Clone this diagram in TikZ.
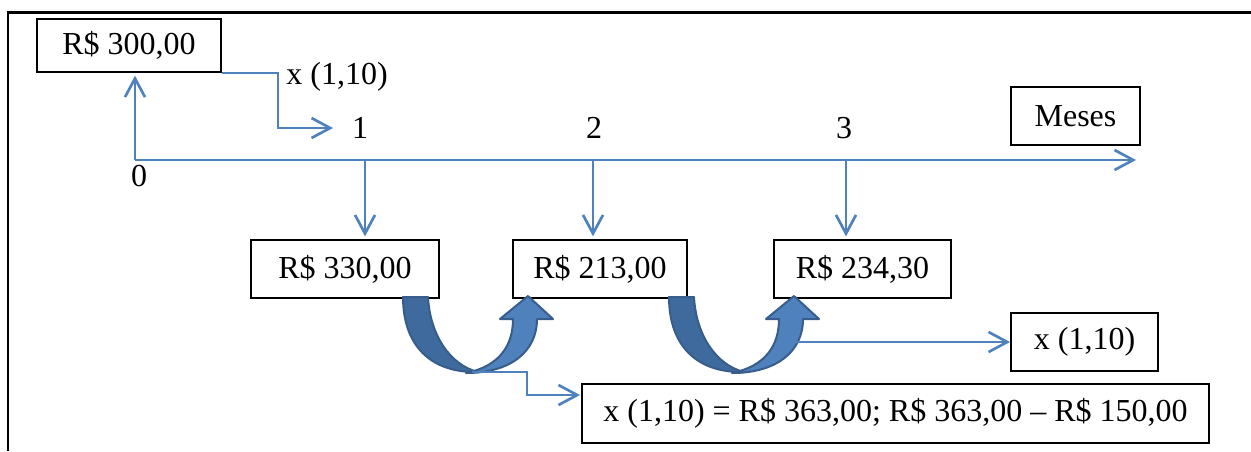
\documentclass[tikz,border=0pt]{standalone}
\usepackage{fontspec}
\setmainfont{Liberation Serif}
\usetikzlibrary{arrows.meta,calc}
\definecolor{lineblue}{HTML}{4F81BD}
\definecolor{arrlight}{HTML}{4F81BD}
\definecolor{arrdark}{HTML}{3E6A9E}
\definecolor{arredge}{HTML}{385D8A}
\begin{document}
\begin{tikzpicture}[x=0.75pt,y=-0.75pt,
  box/.style={draw=black,line width=1.4pt,inner sep=0pt,font=\fontsize{24}{28}\selectfont},
  lbl/.style={inner sep=0pt,font=\fontsize{24}{28}\selectfont},
  bl/.style={draw=lineblue,line width=2pt},
  arr/.style={bl,-{Straight Barb[length=14pt,width=15pt]}},
  uarrL/.style={fill=arrdark,draw=arredge,line width=1.5pt,line join=round},
  uarrR/.style={fill=arrlight,draw=arredge,line width=1.5pt,line join=round}]
\useasboundingbox (0,0) rectangle (1251,451);
% frame
\draw[line width=2pt] (8,451) -- (8,12.5) -- (1251,12.5);

% boxes
\node[box,minimum width=138pt,minimum height=39.75pt] (b0) at (129,45.5) {R\$ 300,00};
\node[box,minimum width=96.75pt,minimum height=43.5pt] (bm) at (1075.5,116) {Meses};
\node[box,minimum width=141pt,minimum height=43.5pt] (b1) at (345,269) {R\$ 330,00};
\node[box,minimum width=130.5pt,minimum height=43.5pt] (b2) at (600,269) {R\$ 213,00};
\node[box,minimum width=132.75pt,minimum height=43.5pt] (b3) at (862.5,269) {R\$ 234,30};
\node[box,minimum width=110.25pt,minimum height=43.5pt] (b5) at (1084.5,342) {x (1,10)};
\node[box,minimum width=470.25pt,minimum height=44.25pt] (b6) at (895.5,413.5) {x (1,10) = R\$ 363,00; R\$ 363,00 \textendash{} R\$ 150,00};

% labels
\node[lbl] (lx) at (337,77) {x (1,10)};
\node[lbl] (n0) at (139,176) {0};
\node[lbl] (n1) at (360,128) {1};
\node[lbl] (n2) at (594,128) {2};
\node[lbl] (n3) at (844,128) {3};

% axis
\coordinate (o) at (135,160);
\coordinate (axend) at (1136,160);
\draw[arr] (o) -- (axend);
\draw[arr] (o) -- ([yshift=-2pt]o |- b0.south);

% multiplication connector
\coordinate (c1) at (333,128);
\draw[arr] (b0.south east) -- ++(56,0) |- (c1);

% ticks
\coordinate (t1) at (365,160);
\coordinate (t2) at (593,160);
\coordinate (t3) at (846,160);
\draw[arr] (t1) -- ([yshift=2pt]t1 |- b1.north);
\draw[arr] (t2) -- ([yshift=2pt]t2 |- b2.north);
\draw[arr] (t3) -- ([yshift=2pt]t3 |- b3.north);

% curved arrows
\foreach \dx in {0,266}{
\begin{scope}[shift={(\dx,0)}]
\filldraw[uarrL] (403,297) -- (428,297) .. controls (430,335) and (450,365) .. (478,372)
   .. controls (430,373) and (403,345) .. (403,297) -- cycle;
\filldraw[uarrR] (466,373) .. controls (510,373) and (537,352) .. (537,319) -- (553,319)
   -- (528,296) -- (500,319) -- (513,319) .. controls (513,345) and (500,366) .. (466,373) -- cycle;
\end{scope}}

% connectors from the curved arrows
\coordinate (k1) at (472,372);
\coordinate (e1) at (580,395);
\draw[arr] (k1) -- ++(55,0) |- (e1);
\coordinate (k2) at (793,342);
\draw[arr] (k2) -- (k2 -| b5.west);
\end{tikzpicture}
\end{document}
